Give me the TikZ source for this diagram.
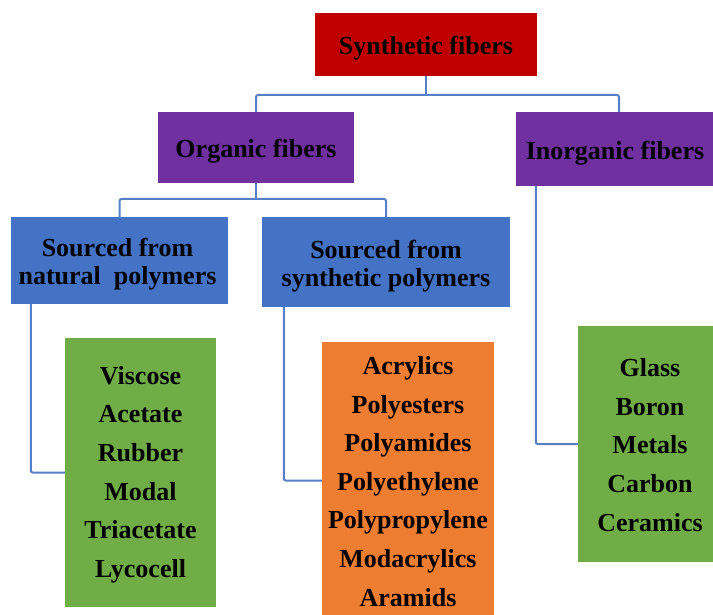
\documentclass[tikz,border=0pt]{standalone}
\usepackage{fontspec}
\setmainfont{Liberation Serif}
\definecolor{cred}{HTML}{C00000}
\definecolor{cpurple}{HTML}{7030A0}
\definecolor{cblue}{HTML}{4472C4}
\definecolor{cgreen}{HTML}{70AD47}
\definecolor{corange}{HTML}{ED7D31}
\definecolor{cline}{HTML}{5580C8}
\begin{document}
\begin{tikzpicture}[x=1pt,y=-1pt,
  box/.style={rectangle, inner sep=0pt},
  txt/.style={inner sep=0pt, align=center, text=black,
    font=\fontsize{26}{28}\selectfont\bfseries},
  listtxt/.style={txt, font=\fontsize{26}{38.6}\selectfont\bfseries},
  conn/.style={draw=cline, line width=2pt, rounded corners=2pt}]
\useasboundingbox (0,0) rectangle (713,615);
\clip (0,0) rectangle (713,615);
% boxes
\node[box, fill=cred, minimum width=222pt, minimum height=63pt] (syn) at (426,44.5) {};
\node[box, fill=cpurple, minimum width=196pt, minimum height=71pt] (org) at (256,147.5) {};
\node[box, fill=cpurple, minimum width=207pt, minimum height=74pt] (inorg) at (619,149) {};
\node[box, fill=cblue, minimum width=217pt, minimum height=87pt] (nat) at (119.5,260.5) {};
\node[box, fill=cblue, minimum width=248pt, minimum height=90pt] (synp) at (386,262) {};
\node[box, fill=cgreen, minimum width=151pt, minimum height=269pt] (gA) at (140.5,472.5) {};
\node[box, fill=corange, minimum width=172pt, minimum height=277pt] (oB) at (408,480.5) {};
\node[box, fill=cgreen, minimum width=144pt, minimum height=236pt] (gC) at (650,444) {};
% texts
\node[txt] (synT) at ([yshift=-4pt]syn.center) {Synthetic fibers};
\node[txt] (orgT) at ([yshift=-4pt]org.center) {Organic fibers};
\node[txt] (inorgT) at ([xshift=-4pt,yshift=-4pt]inorg.center) {Inorganic fibers};
\node[txt] (natT) at ([xshift=-2pt,yshift=-4pt]nat.center) {Sourced from\\natural~ polymers};
\node[txt] (synpT) at ([yshift=-4pt]synp.center) {Sourced from\\synthetic polymers};
\node[listtxt] (gAT) at ([yshift=-2pt]gA.center) {Viscose\\Acetate\\Rubber\\Modal\\Triacetate\\Lycocell};
\node[listtxt] (oBT) at ([yshift=-1pt]oB.center) {Acrylics\\Polyesters\\Polyamides\\Polyethylene\\Polypropylene\\Modacrylics\\Aramids};
\node[listtxt] (gCT) at ([yshift=-1pt]gC.center) {Glass\\Boron\\Metals\\Carbon\\Ceramics};
% connectors
\coordinate (j1) at (426,95);
\coordinate (j2) at (256,199);
\draw[conn] (syn.south) -- (j1);
\draw[conn] (j1) -| (org.north);
\draw[conn] (j1) -| (inorg.north);
\draw[conn] (org.south) -- (j2);
\draw[conn] (j2) -| (nat.north);
\draw[conn] (j2) -| (synp.north);
\draw[conn] ([xshift=20pt]nat.south west) |- (gA.west);
\draw[conn] ([xshift=22pt]synp.south west) |- (oB.west);
\draw[conn] ([xshift=20.5pt]inorg.south west) |- (gC.west);
\end{tikzpicture}
\end{document}
